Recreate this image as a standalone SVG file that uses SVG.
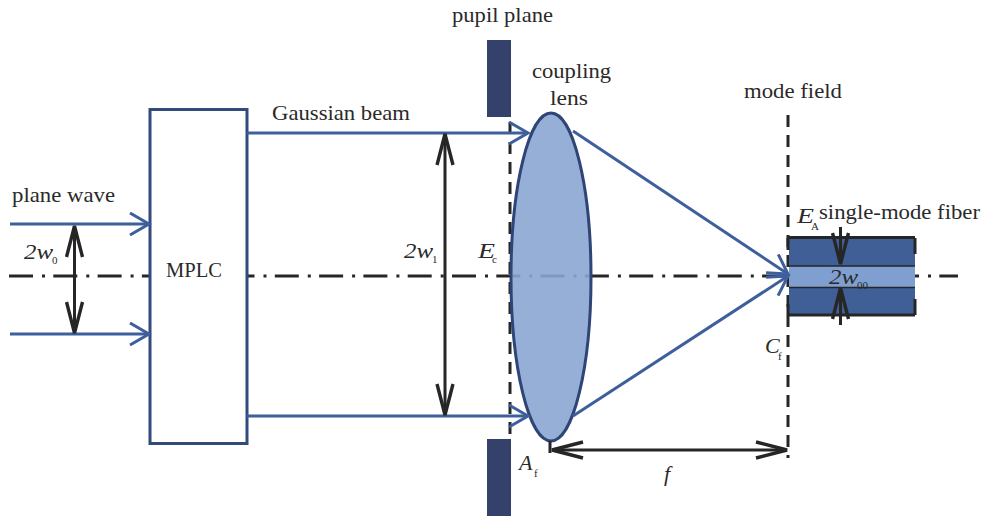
<svg xmlns="http://www.w3.org/2000/svg" width="981" height="518" viewBox="0 0 981 518">
<style>
text{font-family:"Liberation Serif","Times New Roman",serif;font-size:21px;fill:#2a2a2a}
.i{font-style:italic;font-size:22px}
.s{font-size:11px}
.b{fill:none;stroke:#3f5f9c;stroke-width:3}
.k{fill:none;stroke:#262626;stroke-width:3}
.d{fill:none;stroke:#262626;stroke-width:3;stroke-dasharray:12 8}
.c{fill:none;stroke:#262626;stroke-width:3;stroke-dasharray:24 9 3 8.300}
</style>
<defs>
<marker id="ab" viewBox="0 0 24 24" refX="20" refY="12" markerWidth="24" markerHeight="24" markerUnits="userSpaceOnUse" orient="auto-start-reverse"><path d="M1 1L20 12L1 23" fill="none" stroke="#3f5f9c" stroke-width="3"/></marker>
<marker id="ak" viewBox="0 0 36 20" refX="34" refY="10" markerWidth="36" markerHeight="20" markerUnits="userSpaceOnUse" orient="auto-start-reverse"><path d="M3 2L34 10L3 18" fill="none" stroke="#262626" stroke-width="3.400"/></marker>
</defs>
<g id="connectors-back">
<path class="c" d="M9 276H958"/>
<path class="d" d="M510 122V438"/>
<path class="d" d="M788 115V458"/>
</g>
<g id="mplc"><rect x="150" y="109.500" width="97" height="334" fill="#fff" stroke="#324a7c" stroke-width="3"/><text x="166" y="277" textLength="56" lengthAdjust="spacingAndGlyphs">MPLC</text></g>
<g id="pupil-top"><rect x="487" y="40" width="24" height="77" fill="#33416b"/></g>
<g id="pupil-bottom"><rect x="487" y="439" width="24" height="77" fill="#33416b"/></g>
<g id="lens"><ellipse cx="551" cy="277" rx="40" ry="164" fill="#8aa6d2" fill-opacity=".9" stroke="#2f4577" stroke-width="3"/></g>
<g id="fiber">
<rect x="789" y="238" width="126" height="77" fill="#405f97"/>
<rect x="789" y="266" width="126" height="21.500" fill="#7f9fd0"/>
<path d="M789 266H915M789 287.500H915" stroke="#262626" stroke-width="1.500"/>
<path d="M788 237.500H915M788 315H915" stroke="#262626" stroke-width="3"/>
<path d="M915 238V254M915 299V315M788 238V250M788 304V315" stroke="#262626" stroke-width="3"/>
</g>
<g id="connectors">
<path class="b" marker-end="url(#ab)" d="M10 224H149"/>
<path class="b" marker-end="url(#ab)" d="M10 334H149"/>
<path class="b" marker-end="url(#ab)" d="M247 133H528"/>
<path class="b" marker-end="url(#ab)" d="M247 416H528"/>
<path class="b" marker-end="url(#ab)" d="M573 131L788 274"/>
<path class="b" marker-end="url(#ab)" d="M573 416L788 276"/>
<path class="k" marker-start="url(#ak)" marker-end="url(#ak)" d="M74.500 226V333"/>
<path class="k" marker-start="url(#ak)" marker-end="url(#ak)" d="M445 134V415"/>
<path class="k" marker-start="url(#ak)" marker-end="url(#ak)" d="M552 450H787"/>
<path class="k" d="M550 441V453"/>
<path class="k" marker-end="url(#ak)" d="M840.500 227V264"/>
<path class="k" marker-end="url(#ak)" d="M840.500 325V288"/>
</g>
<g id="labels">
<text x="452" y="22" textLength="101" lengthAdjust="spacingAndGlyphs">pupil plane</text>
<text x="532" y="78" textLength="79" lengthAdjust="spacingAndGlyphs">coupling</text>
<text x="550" y="105" textLength="38" lengthAdjust="spacingAndGlyphs">lens</text>
<text x="744" y="98" textLength="98" lengthAdjust="spacingAndGlyphs">mode field</text>
<text x="272" y="120" textLength="138" lengthAdjust="spacingAndGlyphs">Gaussian beam</text>
<text x="12" y="202" textLength="103" lengthAdjust="spacingAndGlyphs">plane wave</text>
<text x="819" y="219" textLength="161" lengthAdjust="spacingAndGlyphs">single-mode fiber</text>
<text class="i" x="24" y="259" textLength="29" lengthAdjust="spacingAndGlyphs">2w</text><text class="s" x="52" y="264">0</text>
<text class="i" x="404" y="258" textLength="29" lengthAdjust="spacingAndGlyphs">2w</text><text class="s" x="432" y="263">1</text>
<text class="i" x="478" y="258" textLength="17" lengthAdjust="spacingAndGlyphs">E</text><text class="s" x="492" y="263">c</text>
<text class="i" x="797" y="223" textLength="17" lengthAdjust="spacingAndGlyphs">E</text><text class="s" x="811" y="230">A</text>
<text class="i" x="829" y="284" textLength="29" lengthAdjust="spacingAndGlyphs">2w</text><text class="s" x="857" y="289">00</text>
<text class="i" x="765" y="353">C</text><text class="s" x="778" y="360">f</text>
<text class="i" x="519" y="470">A</text><text class="s" x="534" y="477">f</text>
<text class="i" x="664" y="481">f</text>
</g>
</svg>
